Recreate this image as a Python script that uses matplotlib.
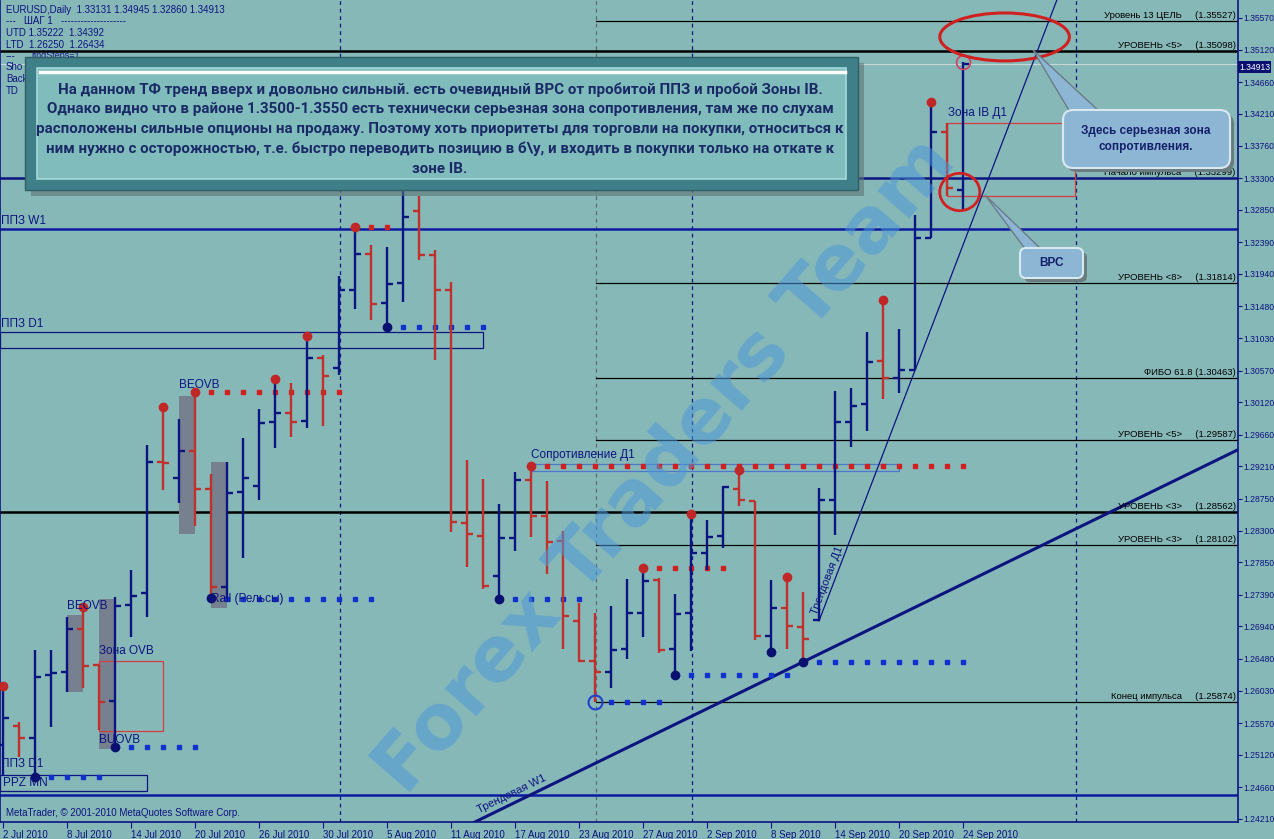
import numpy as np
import matplotlib.pyplot as plt
from matplotlib.patches import Rectangle, Ellipse, FancyBboxPatch, Polygon
from matplotlib.transforms import Affine2D

plt.rcParams['font.family'] = ['Liberation Sans', 'DejaVu Sans']

# EURUSD daily bars, 2 Jul 2010 .. 24 Sep 2010
opens = [1.25260, 1.25529, 1.25359, 1.26252, 1.26295, 1.26905, 1.26394, 1.25884, 1.27245, 1.27415,
         1.29273, 1.29046, 1.29429, 1.28890, 1.27500, 1.28848, 1.28933, 1.29840, 1.29968, 1.29855,
         1.30748, 1.30606, 1.31713, 1.32223, 1.31528, 1.31812, 1.32833, 1.32209, 1.31713, 1.28408,
         1.28224, 1.27656, 1.28195, 1.29018, 1.28507, 1.28153, 1.27018, 1.26450, 1.26295, 1.26621,
         1.27132, 1.27600, 1.26621, 1.27132, 1.27983, 1.28223, 1.28890, 1.28720, 1.26806, 1.27202,
         1.26929, 1.27032, 1.28734, 1.29840, 1.30095, 1.30705, 1.30464, 1.30578, 1.32450, 1.33953,
         1.33131]
highs = [1.26096, 1.25586, 1.26607, 1.26607, 1.27075, 1.27217, 1.26394, 1.27359, 1.27742, 1.29514,
         1.30053, 1.29883, 1.30266, 1.29103, 1.29273, 1.29614, 1.30025, 1.30450, 1.30394, 1.31060,
         1.30791, 1.31911, 1.32606, 1.32351, 1.32322, 1.33244, 1.33046, 1.32280, 1.31826, 1.29302,
         1.29032, 1.28678, 1.29131, 1.29216, 1.29004, 1.28295, 1.27274, 1.27132, 1.27231, 1.27614,
         1.27770, 1.27628, 1.27401, 1.28536, 1.28451, 1.28933, 1.29160, 1.28720, 1.27600, 1.27642,
         1.27430, 1.28904, 1.30280, 1.30323, 1.31117, 1.31571, 1.31159, 1.32776, 1.34379, 1.34081,
         1.34945]
lows = [1.24834, 1.25089, 1.24806, 1.25515, 1.26011, 1.26068, 1.25472, 1.25231, 1.26791, 1.27075,
        1.28876, 1.28691, 1.28365, 1.27344, 1.27344, 1.27912, 1.28734, 1.29472, 1.29628, 1.29755,
        1.29784, 1.30507, 1.31443, 1.31287, 1.31188, 1.31542, 1.32138, 1.30720, 1.28280, 1.27784,
        1.27472, 1.27330, 1.28011, 1.28209, 1.27685, 1.26621, 1.26437, 1.25874, 1.26068, 1.26479,
        1.26791, 1.26564, 1.26252, 1.26593, 1.27742, 1.28053, 1.28649, 1.26748, 1.26578, 1.26621,
        1.26437, 1.27018, 1.28238, 1.29486, 1.29713, 1.30167, 1.30252, 1.30578, 1.32450, 1.33046,
        1.32860]
closes = [1.25643, 1.25359, 1.26224, 1.26281, 1.26905, 1.26380, 1.25869, 1.27231, 1.27373, 1.29273,
          1.29255, 1.29429, 1.28890, 1.27500, 1.28834, 1.29046, 1.29826, 1.29968, 1.29840, 1.30748,
          1.30493, 1.31713, 1.32223, 1.31514, 1.31797, 1.32748, 1.32209, 1.31713, 1.28422, 1.28251,
          1.27515, 1.28195, 1.29018, 1.28507, 1.28139, 1.27089, 1.26450, 1.26295, 1.26607, 1.27132,
          1.27586, 1.26607, 1.27118, 1.27983, 1.28209, 1.28919, 1.28734, 1.26806, 1.27202, 1.26943,
          1.26763, 1.28734, 1.29840, 1.30067, 1.30691, 1.30464, 1.30578, 1.32450, 1.33953, 1.33159,
          1.34913]

date_ticks = [0, 4, 8, 12, 16, 20, 24, 28, 32, 36, 40, 44, 48, 52, 56, 60]
date_labels = ['2 Jul 2010', '8 Jul 2010', '14 Jul 2010', '20 Jul 2010', '26 Jul 2010', '30 Jul 2010',
               '5 Aug 2010', '11 Aug 2010', '17 Aug 2010', '23 Aug 2010', '27 Aug 2010', '2 Sep 2010',
               '8 Sep 2010', '14 Sep 2010', '20 Sep 2010', '24 Sep 2010']
price_ticks = [1.35570, 1.35120, 1.34660, 1.34210, 1.33760, 1.33300, 1.32850, 1.32390, 1.31940,
               1.31480, 1.31030, 1.30570, 1.30120, 1.29660, 1.29210, 1.28750, 1.28300, 1.27850,
               1.27390, 1.26940, 1.26480, 1.26030, 1.25570, 1.25120, 1.24660, 1.24210]

# fractals
up_fractals = [0, 5, 10, 12, 17, 19, 22, 33, 40, 43, 46, 49, 55, 58]
down_fractals = [2, 7, 13, 24, 31, 42, 48, 50]

# fractal level dots: (first bar, last bar, price)
red_dots = [(13, 21, 1.30266), (23, 24, 1.32606), (26, 31, 1.33244), (34, 60, 1.29216), (41, 45, 1.27770)]
blue_dots = [(3, 6, 1.24806), (8, 12, 1.25231), (14, 23, 1.27330), (25, 30, 1.31188), (32, 36, 1.27330),
             (38, 41, 1.25874), (43, 49, 1.26252), (51, 60, 1.26437)]

# horizontal levels
level_names = ['Уровень 13 ЦЕЛЬ', 'УРОВЕНЬ <5>', 'Начало импульса', 'УРОВЕНЬ <8>', 'ФИБО 61.8',
               'УРОВЕНЬ <5>', 'УРОВЕНЬ <3>', 'УРОВЕНЬ <3>', 'Конец импульса']
level_prices = [1.35527, 1.35098, 1.33299, 1.31814, 1.30463, 1.29587, 1.28562, 1.28102, 1.25874]
level_full = [False, True, True, False, False, False, True, False, False]
ppz_lines = [1.32578, 1.24551]
bid = 1.34913

# OVB zones (grey) and outlined zones
ovb_zones = [(4, 1.27103, 1.26011), (6, 1.27330, 1.25203), (11, 1.30209, 1.28252), (13, 1.29273, 1.27203)]
ppz_d1_box = (-0.2, 30.0, 1.31117, 1.30890)
ppz_mn_box = (-0.2, 9.0, 1.24834, 1.24607)
resist_box = (33.0, 56.0, 1.29245, 1.29146)
zone_ovb_box = (6.0, 10.0, 1.26451, 1.25459)
zone_ib_box = (59.0, 67.0, 1.34081, 1.33046)

# trend lines: anchor bar, anchor price, slope per bar
trend_w1 = (50, 1.26437, 0.001107)
trend_d1 = (51, 1.27018, 0.005923)

separators = [21, 43, 67]
grey_sep = 37

navy = '#0c1480'
red = '#c0312b'
bg = '#87b8b8'

fig = plt.figure(figsize=(12.74, 8.39), dpi=100, facecolor=bg)
ax = fig.add_axes([0, 17 / 839, 1238 / 1274, 822 / 839])
ax.set_facecolor(bg)
xmin, xmax = -0.19, 77.19
ax.set_xlim(xmin, xmax)
ax.set_ylim(1.24167, 1.35825)
T = Affine2D().scale(1 / 1274, -1 / 839).translate(0, 1) + fig.transFigure

for s in ax.spines.values():
    s.set_color(navy)
    s.set_linewidth(1.2)
ax.spines['top'].set_visible(False)

# separators
for x in separators:
    ax.axvline(x + 0.06, color=navy, lw=0.9, ls=(0, (3, 3)), zorder=1)
ax.axvline(grey_sep + 0.06, color='#5a6a72', lw=0.9, ls=(0, (3, 3)), zorder=1)

# levels
for name, p, full in zip(level_names, level_prices, level_full):
    col = navy if name == 'Начало импульса' else 'black'
    if full:
        ax.plot([xmin, xmax], [p, p], color=col, lw=1.8, zorder=2)
    else:
        ax.plot([37.06, xmax], [p, p], color=col, lw=0.9, zorder=2)
    sep = ' ' if name.startswith('ФИБО') else '     '
    ax.text(77.05, p + 0.00012, f'{name}{sep}({p:.5f})', ha='right', va='bottom',
            fontsize=6.8, color='black', zorder=6)
for p in ppz_lines:
    ax.plot([xmin, xmax], [p, p], color='#0c1aa0', lw=1.8, zorder=2)
ax.plot([xmin, xmax], [bid, bid], color='#c8d8d8', lw=0.8, zorder=1)

# zones
for x0, top, bot in ovb_zones:
    ax.add_patch(Rectangle((x0, bot), 1, top - bot, facecolor='#77808f', edgecolor='none', zorder=2))
for (x0, x1, top, bot), ec in [(ppz_d1_box, navy), (ppz_mn_box, navy), (resist_box, '#4b78c8'),
                               (zone_ovb_box, '#d04040'), (zone_ib_box, '#d04040')]:
    ax.add_patch(Rectangle((x0, bot), x1 - x0, top - bot, facecolor='none', edgecolor=ec, lw=0.9, zorder=3))

# trend lines
for (b, p, k), lw in [(trend_w1, 2.2), (trend_d1, 0.9)]:
    xs = np.array([xmin, xmax])
    if k > 0.003:
        xs = np.array([b, xmax])
    ax.plot(xs, p + k * (xs - b), color=navy, lw=lw, zorder=4)
ax.text(31.8, 1.24560, 'Трендовая W1', rotation=26, ha='center', va='center', fontsize=8, color=navy, zorder=6)
ax.text(51.5, 1.27600, 'Трендовая Д1', rotation=69, ha='center', va='center', fontsize=8, color=navy, zorder=6)

# dotted fractal levels
for a, b, p in red_dots:
    xs = np.arange(a, b + 1)
    ax.plot(xs, [p] * len(xs), ls='none', marker='s', ms=2.4, color='#d02020', zorder=4)
for a, b, p in blue_dots:
    xs = np.arange(a, b + 1)
    ax.plot(xs, [p] * len(xs), ls='none', marker='s', ms=2.4, color='#1030d0', zorder=4)

# OHLC bars
x = np.arange(len(opens))
o, h, l, c = map(np.array, (opens, highs, lows, closes))
cols = np.where(c >= o, navy, red)
ax.vlines(x, l, h, colors=cols, lw=1.7, zorder=5)
ax.hlines(o, x - 0.36, x, colors=cols, lw=1.7, zorder=5)
ax.hlines(c, x, x + 0.36, colors=cols, lw=1.7, zorder=5)

# fractal markers
ax.plot(x[up_fractals], h[up_fractals], 'o', ms=6, color='#c02828', zorder=6)
ax.plot(x[down_fractals], l[down_fractals], 'o', ms=6, color='#0a1070', zorder=6)
ax.plot([25], [h[25]], 'o', ms=10, mfc='none', mec='#2040d0', mew=1.2, zorder=6)
ax.plot([37], [l[37]], 'o', ms=10, mfc='none', mec='#2040d0', mew=1.5, zorder=6)
ax.plot([60], [h[60]], 'o', ms=10, mfc='none', mec='#d04060', mew=1.2, zorder=6)

# ellipses
ax.add_patch(Ellipse((62.6, 1.35301), 8.1, 0.0068, facecolor='none', edgecolor='#d02020', lw=2.2, zorder=7))
ax.add_patch(Ellipse((59.8, 1.33102), 2.5, 0.0053, facecolor='none', edgecolor='#d02020', lw=2.0, zorder=7))

# labels on chart
lab = dict(fontsize=8.5, color=navy, zorder=6)
ax.text(-0.1, 1.32600, 'ППЗ W1', va='bottom', **lab)
ax.text(-0.1, 1.31140, 'ППЗ D1', va='bottom', **lab)
ax.text(-0.1, 1.24990, 'ППЗ D1', va='center', **lab)
ax.text(0.0, 1.24720, 'PPZ MN', va='center', **lab)
ax.text(11.0, 1.30365, 'BEOVB', va='center', **lab)
ax.text(4.0, 1.27231, 'BEOVB', va='center', **lab)
ax.text(6.0, 1.25331, 'BUOVB', va='center', **lab)
ax.text(13.0, 1.27330, 'Rail (Рельсы)', va='center', **lab)
ax.text(6.0, 1.26593, 'Зона OVB', va='center', **lab)
ax.text(33.0, 1.29373, 'Сопротивление Д1', va='center', **lab)
ax.text(59.05, 1.34223, 'Зона IB Д1', va='center', **lab)

# axes ticks
ax.set_xticks(date_ticks)
ax.set_xticklabels(date_labels)
for t in ax.get_xticklabels():
    t.set_ha('left')
ax.tick_params(axis='x', direction='out', length=4, color=navy, labelcolor=navy, labelsize=7, pad=2)
ax.yaxis.tick_right()
ax.set_yticks(price_ticks)
ax.set_yticklabels([f'{p:.5f}' for p in price_ticks])
ax.tick_params(axis='y', direction='out', length=3, color=navy, labelcolor=navy, labelsize=6.2, pad=1)
fig.text(1239, 67, f'{bid:.5f}', transform=T, ha='left', va='center', fontsize=6.2, color='white',
         bbox=dict(boxstyle='square,pad=0.12', fc='#0a1070', ec='none'))

# header
hdr = ['EURUSD,Daily  1.33131 1.34945 1.32860 1.34913', '---   ШАГ 1   --------------------',
       'UTD 1.35222  1.34392', 'LTD  1.26250  1.26434', '---', 'Sho', 'Backte', 'TD']
for i, s in enumerate(hdr):
    fig.text(6, 10 + 11.5 * i, s, transform=T, fontsize=7, color=navy, va='center')
ax.text(1.8, 1.35000, 'ringSteps=1', fontsize=6.5, color=navy, zorder=6)

# text box
fig.add_artist(Rectangle((31, 63), 833, 133, transform=T, fc='#5e7475', ec='none', alpha=0.6, zorder=8))
fig.add_artist(Rectangle((25, 57), 833, 133, transform=T, fc='#3f7f87', ec='#2d5f66', lw=1, zorder=8))
fig.add_artist(Rectangle((37, 68), 809, 111, transform=T, fc='#84c0bf', ec='#a8dcdc', lw=1.2, zorder=8, alpha=0.95))
fig.add_artist(plt.Line2D([40, 845], [72, 72], transform=T, color='white', lw=2.5, zorder=8))
msg = ('На данном ТФ тренд вверх и довольно сильный. есть очевидный ВРС от пробитой ППЗ и пробой Зоны IB.\n'
       'Однако видно что в районе 1.3500-1.3550 есть технически серьезная зона сопротивления, там же по слухам\n'
       'расположены сильные опционы на продажу. Поэтому хоть приоритеты для торговли на покупки, относиться к\n'
       'ним нужно с осторожностью, т.е. быстро переводить позицию в б\\у, и входить в покупки только на откате к\n'
       'зоне IB.')
fig.text(440, 129, msg, transform=T, ha='center', va='center', fontsize=10.9, fontweight='bold',
         family=['Roboto', 'DejaVu Sans'], color='#1a2a66', linespacing=1.5, zorder=9)

# callouts
fig.add_artist(Polygon([(1070, 112), (1100, 112), (1033, 50)], closed=True, transform=T,
                       fc='#8cb6d4', ec='#6a7c88', lw=1, zorder=8))
fig.add_artist(FancyBboxPatch((1067, 114), 167, 58, boxstyle='round,pad=0,rounding_size=10', transform=T,
                              fc='#6a7c80', ec='none', zorder=8))
fig.add_artist(FancyBboxPatch((1063, 110), 167, 58, boxstyle='round,pad=0,rounding_size=10', transform=T,
                              fc='#8cb6d4', ec='#d8e8f0', lw=1.5, zorder=8))
fig.text(1146, 139, 'Здесь серьезная зона\nсопротивления.', transform=T, ha='center', va='center',
         fontsize=8.5, fontweight='bold', color='#14206a', linespacing=1.5, zorder=9)
fig.add_artist(Polygon([(1026, 250), (1042, 250), (985, 195)], closed=True, transform=T,
                       fc='#8cb6d4', ec='#6a7c88', lw=1, zorder=8))
fig.add_artist(FancyBboxPatch((1024, 252), 63, 30, boxstyle='round,pad=0,rounding_size=6', transform=T,
                              fc='#6a7c80', ec='none', zorder=8))
fig.add_artist(FancyBboxPatch((1020, 248), 63, 30, boxstyle='round,pad=0,rounding_size=6', transform=T,
                              fc='#8cb6d4', ec='#d8e8f0', lw=1.5, zorder=8))
fig.text(1051, 263, 'ВРС', transform=T, ha='center', va='center', fontsize=8.5, fontweight='bold',
         color='#14206a', zorder=9)

# watermark
fig.text(666, 466, 'Forex Traders Team', transform=T, ha='center', va='center', rotation=49,
         fontsize=55, fontweight='heavy', family=['DejaVu Sans'], color='#4c98d8', alpha=0.55, zorder=7)

fig.text(6, 813, 'MetaTrader, © 2001-2010 MetaQuotes Software Corp.', transform=T, fontsize=7,
         color=navy, va='center')

fig.savefig('out.png', dpi=100, facecolor=bg)
